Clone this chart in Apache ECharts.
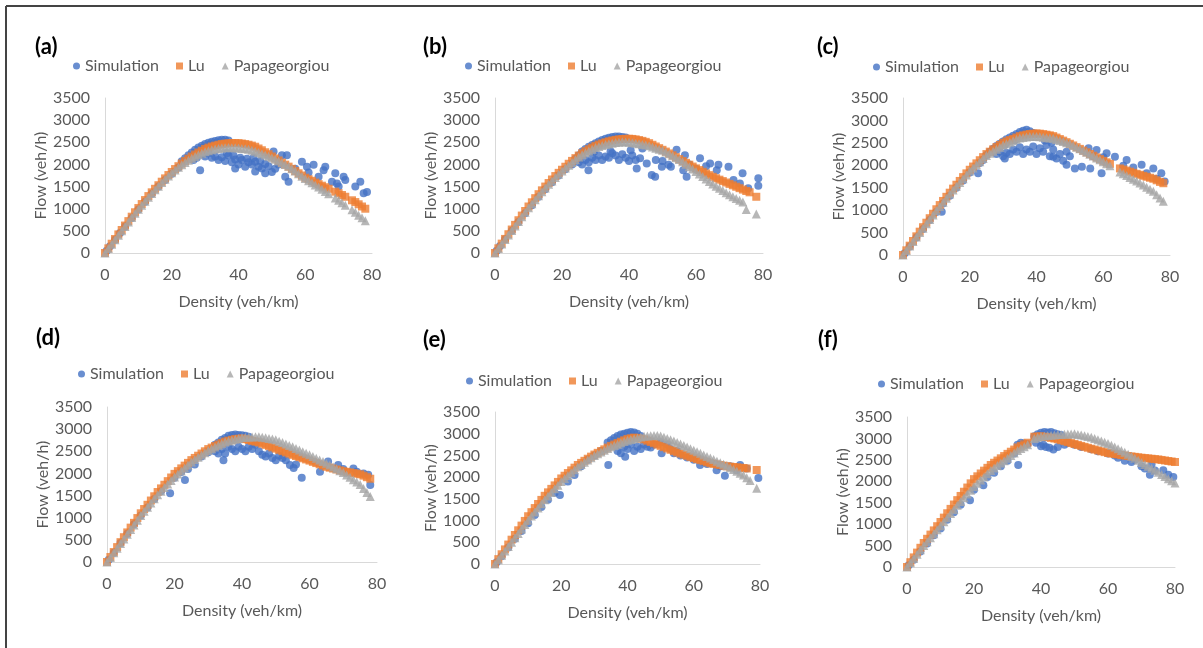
<!DOCTYPE html>
<html>
<head>
<meta charset="utf-8">
<script src="https://cdn.jsdelivr.net/npm/echarts@6/dist/echarts.min.js"></script>
<style>
html,body{margin:0;padding:0;background:#fff;}
#chart{width:1203px;height:648px;}
</style>
</head>
<body>
<div id="chart"></div>
<script>
// ---------- DATA ----------
const panelLabels = ['(a)', '(b)', '(c)', '(d)', '(e)', '(f)'];
const seriesNames = ['Simulation', 'Lu', 'Papageorgiou'];
const xTicks = [0, 20, 40, 60, 80];
const yTicks = [0, 500, 1000, 1500, 2000, 2500, 3000, 3500];
const xTitle = 'Density (veh/km)';
const yTitle = 'Flow (veh/h)';

// densities at which the model curves are evaluated
const modelDensity = [0,1,2,3,4,5,6,7,8,9,10,11,12,13,14,15,16,17,18,19,20,21,22,23,24,25,26,27,28,29,30,31,32,33,34,35,36,37,38,39,40,41,42,43,44,45,46,47,48,49,50,51,52,53,54,55,56,57,58,59,60,61,62,63,64,65,66,67,68,69,70,71,72,73,74,75,76,77,78,79,80];

const luA = [0,105,210,315,420,520,620,720,820,920,
 1015,1105,1195,1285,1370,1450,1530,1610,1685,1760,
 1830,1895,1960,2020,2075,2130,2180,2225,2270,2310,
 2350,2380,2405,2425,2445,2460,2470,2478,2482,2482,
 2480,2472,2460,2445,2425,2400,2360,2320,2275,2230,
 2180,2135,2090,2040,1995,1950,1900,1850,1800,1750,
 1700,1665,1630,1590,1555,1520,1485,1450,null,1385,
 1350,1310,1270,null,1190,1150,1100,1050,1000,null,null];
const papA = [0,100,200,300,400,500,600,700,800,895,
 990,1080,1170,1260,1345,1430,1510,1590,1665,1740,
 1810,1875,1935,1990,2045,2095,2140,2180,2220,2255,
 2285,2310,2330,2350,2362,2372,2378,2380,2378,2375,
 2370,2362,2352,2340,2320,2300,2272,2242,2212,2182,
 2150,2115,2080,2040,2000,1960,1905,1850,1790,1735,
 1680,1630,1585,1535,1490,1440,1390,1340,null,1240,
 1190,1135,1080,null,975,920,855,795,730,null,null];

const luB = [0,106,212,318,424,530,635,740,845,948,
 1050,1145,1238,1328,1415,1500,1580,1660,1737,1810,
 1880,1948,2015,2080,2142,2200,2250,2298,2343,2383,
 2420,2450,2477,2500,2522,2540,2555,2566,2574,2579,
 2580,2576,2566,2550,2532,2510,2480,2444,2405,2367,
 2330,2290,2248,2206,2163,2120,2078,2036,1994,1952,
 1910,1872,1834,1796,1758,1720,1688,1656,1624,1592,
 1560,1528,1496,1464,1432,1400,1370,null,1270,null,null];
const papB = [0,102,204,306,408,510,612,714,816,918,
 1020,1113,1205,1295,1383,1470,1550,1628,1705,1778,
 1850,1918,1983,2045,2108,2170,2218,2263,2305,2345,
 2380,2405,2428,2448,2465,2480,2493,2503,2510,2508,
 2500,2490,2478,2465,2452,2440,2420,2395,2368,2345,
 2320,2280,2240,2195,2152,2110,2058,2004,1950,1895,
 1840,1784,1728,1672,1616,1560,1510,1460,1410,1360,
 1315,1270,1230,1190,1150,980,null,null,880,null,null];

const luC = [0,104,208,312,416,520,620,720,820,920,
 1020,1113,1205,1297,1389,1480,1566,1651,1736,1820,
 1900,1972,2043,2113,2182,2250,2303,2355,2405,2453,
 2500,2533,2563,2590,2620,2650,2668,2684,2697,2705,
 2710,2705,2695,2682,2668,2650,2618,2584,2550,2515,
 2480,2442,2404,2366,2328,2290,2252,2214,2176,2138,
 2100,2066,2032,null,null,1930,1906,1882,1858,1834,
 1810,1788,1766,1744,1722,1700,1665,1630,1600,null,null];
const papC = [0,100,200,300,400,500,598,696,794,892,
 990,1082,1174,1266,1358,1450,1534,1618,1702,1786,
 1870,1940,2010,2080,2150,2220,2266,2312,2358,2404,
 2450,2482,2514,2546,2578,2610,2620,2630,2640,2642,
 2640,2634,2626,2616,2608,2600,2576,2552,2528,2504,
 2480,2442,2404,2366,2328,2290,2248,2206,2164,2122,
 2080,2034,1988,null,null,1850,1810,1770,1730,1690,
 1650,1604,1558,1512,1466,1420,1345,1270,1200,null,null];

const luD = [0,112,224,336,448,560,668,776,884,992,
 1100,1196,1292,1388,1484,1580,1662,1744,1826,1908,
 1990,2052,2114,2176,2238,2300,2350,2400,2450,2500,
 2550,2584,2618,2652,2686,2720,2740,2760,2775,2785,
 2790,2775,2755,2735,2718,2700,2672,2644,2616,2588,
 2560,2532,2504,2476,2448,2420,2394,2368,2342,2316,
 2290,2262,2234,2206,2178,2150,2130,2110,2090,2070,
 2050,2036,2022,2008,1994,1980,1950,1915,1880,null,null];
const papD = [0,104,208,312,416,520,626,732,838,944,
 1050,1144,1238,1332,1426,1520,1600,1680,1760,1840,
 1920,1988,2056,2124,2192,2260,2312,2364,2416,2468,
 2520,2558,2596,2634,2672,2710,2730,2750,2770,2790,
 2810,2815,2820,2825,2828,2830,2818,2804,2790,2775,
 2760,2728,2696,2664,2632,2600,2564,2528,2492,2456,
 2420,2382,2344,2306,2268,2230,2188,2146,2104,2062,
 2020,1966,1912,1858,1804,1750,1660,1570,1480,null,null];

const luE = [0,112,224,336,448,560,668,776,884,992,
 1100,1194,1288,1382,1476,1570,1650,1730,1810,1890,
 1970,2032,2094,2156,2218,2280,2328,2376,2424,2472,
 2520,2560,2600,2640,2680,2720,2752,2784,2816,2848,
 2880,2895,2910,2900,2885,2870,2840,2810,2780,2750,
 2720,2690,2660,2630,2600,2570,2544,2518,2492,2466,
 2440,2416,2392,2368,2344,2320,2306,2292,2278,2264,
 2250,2242,2234,2226,2218,2210,2200,null,null,2165,null];
const papE = [0,100,200,302,404,500,602,704,806,908,
 1010,1104,1198,1292,1386,1480,1564,1648,1732,1816,
 1900,1968,2036,2104,2172,2240,2292,2344,2396,2448,
 2500,2540,2580,2620,2660,2700,2730,2760,2790,2820,
 2850,2868,2886,2904,2922,2940,2948,2954,2960,2957,
 2950,2920,2890,2860,2830,2800,2764,2728,2692,2656,
 2620,2584,2548,2512,2476,2440,2404,2368,2332,2296,
 2260,2218,2176,2134,2092,2050,1985,1920,null,1745,null];

const luF = [0,112,224,336,448,560,658,756,854,952,
 1050,1152,1254,1356,1458,1560,1658,1756,1854,1952,
 2050,2116,2182,2248,2314,2380,2432,2484,2536,2588,
 2640,2690,2740,2790,2827,2864,2900,null,3040,3045,
 3050,3040,3030,3013,2997,2980,2958,2936,2914,2892,
 2870,2848,2826,2804,2782,2760,2740,2720,2700,2680,
 2660,2648,2636,2624,2612,2600,2590,2580,2570,2560,
 2550,2542,2534,2526,2518,2510,2498,2486,2474,2462,2450];
const papF = [0,100,200,300,400,500,592,684,776,868,
 960,1056,1152,1248,1344,1440,1528,1616,1704,1792,
 1880,1954,2028,2102,2176,2250,2308,2366,2424,2482,
 2540,2600,2660,2720,2763,2806,2850,null,3000,3025,
 3050,3058,3066,3074,3082,3090,3094,3098,3102,3106,
 3110,3094,3078,3062,3046,3030,3000,2970,2940,2910,
 2880,2840,2800,2760,2720,2680,2632,2584,2536,2488,
 2440,2394,2348,2302,2256,2210,2160,2110,2060,2010,1960];

// simulation points [density, flow]
const simA = [[0.5,50],[1.5,150],[3,300],[4.5,450],[6,600],[8,790],[10,980],[12,1160],[14,1340],[16,1500],[18,1650],[20,1790],[22,1930],
 [23,2070],[24,2140],[25,2210],[26,2270],[27,2330],[28,2380],[29,2420],[30,2460],[31,2490],[32,2510],[33,2530],[34,2545],[35,2555],[36,2560],[37,2540],[29.5,2370],[31.5,2440],[33.5,2470],
 [26.5,2100],[27.5,2150],[29,2230],[30,2180],[31,2250],[32,2150],[33,2180],[34,2100],[35,2160],[36,2080],[37,2200],[38,2050],[39,2110],[40,2000],[41,2100],[42,1950],[43,2050],[44,2000],[45,2060],[46,1950],[47,1910],[48,2010],[49,1960],[50,1830],[51,1900],[52,2000],[36.5,2250],[38.5,2200],[40.5,2150],[42.5,2130],[44.5,2150],[46.5,2080],
 [28.5,1870],[39,1910],[45,1840],[48,1800],
 [50.5,2290],[53,2210],[54.5,2210],[54,1720],[55,1610],[59,2060],[60.5,1950],[62.5,1990],[65.5,1870],[64,1720],[69,1800],[71.5,1720],[69.5,1570],[70,1500],[68,1610],[75,1500],[76.5,1610],[77.5,1350],[78.5,1380],[66,1950],[72,1650],[61,1820],[57,1900]];
const simB = [[0.5,50],[1.5,160],[3,310],[5,500],[7,700],[9,900],[11,1080],[13,1270],[15,1440],[17,1600],[19,1750],[21,1890],[23,2000],
 [24,2130],[25,2210],[26,2290],[27,2350],[28,2400],[29,2440],[30,2480],[31,2520],[32,2550],[33,2580],[34,2600],[35,2620],[36,2630],[37,2630],[38,2620],[39,2610],[30.5,2420],[33.5,2500],
 [25,2050],[26,2000],[27,2100],[28,2050],[29,2150],[30,2100],[31,2200],[32,2100],[33,2180],[34,2150],[35,2250],[36,2200],[37,2100],[38,2230],[39,2150],[40,2080],[41,2200],[42,2100],[29.5,2280],[34.5,2300],[40.5,2320],
 [27.9,1870],[42.3,1910],
 [43.3,2140],[45.3,2020],[46.8,1760],[47.8,1720],[49.8,1950],[51.8,1990],[44,2360],[48,2100],[50,2080],[52.5,1950],
 [54.2,2330],[56.7,2210],[56.2,1870],[57.2,1720],[58,2000],[61.2,2140],[64.2,2020],[66.7,1990],[69.7,1950],[66.2,1870],[73.9,1800],[71.2,1650],[73.1,1570],[78.6,1690],[78.6,1520],[75.6,1460],[60,1900],[63,1960]];
const simC = [[0.5,40],[2,190],[4,390],[6,580],[8,780],[10,960],[11.6,966],[12,1150],[14,1320],[16,1500],[18,1660],[20,1840],[22.5,1820],[23,2050],[24,2120],
 [25,2230],[26,2300],[27,2370],[28,2430],[29,2480],[30,2530],[31,2580],[32,2620],[33,2660],[34,2700],[35,2740],[36,2770],[37,2790],[38,2760],[39,2720],[40,2700],[30.5,2460],[33.5,2560],
 [28,2250],[29,2300],[30,2200],[30.5,2150],[31,2280],[32,2250],[33,2350],[34,2300],[35,2400],[36,2250],[37,2350],[38,2300],[39,2420],[40,2250],[41,2380],[42,2300],[43,2450],[44,2200],[45,2350],[46,2150],[47,2250],[48,2100],[49,2300],[50,2200],[42.5,2550],[44.5,2500],
 [45,2190],[49,2010],[51.5,1930],[53.6,1970],[56.1,1930],[59.5,1820],
 [55.6,2380],[58,2340],[61,2270],[63.5,2190],[67,2120],[71.5,2010],[75,1930],[77.4,1820],[78.4,1640],[57,2200],[60,2180],[66,1990],[69,1950],[73,1820],[76,1700]];
const simD = [[0.5,50],[2,210],[4,430],[6,640],[8,850],[10,1050],[12,1230],[14,1420],[16,1600],[18.7,1550],[20,1900],[22,2030],[23.1,1850],[24,2100],[26,2200],[28,2380],[30,2480],
 [32,2650],[33,2700],[34,2760],[35,2800],[36,2850],[37,2870],[38,2880],[39,2870],[40,2860],[41,2850],[42,2830],[36.5,2780],[38.5,2800],
 [32,2500],[33,2450],[34,2550],[35,2450],[36,2600],[37,2550],[38,2500],[39,2600],[40,2550],[41,2500],[42,2600],[43,2550],[44,2650],[45,2500],[46,2420],[47,2380],[48,2450],[49,2350],[50,2300],[51,2400],[52,2350],[53,2300],
 [34.5,2300],[55.3,2120],[57.7,1900],[54.2,2190],[56,2200],
 [63.1,2040],[65.5,2270],[68.5,2190],[73,2110],[74,2040],[77.4,1970],[78,1740],[76,2000],[70,2100]];
const simE = [[0.5,40],[2,180],[4,380],[6,580],[8,760],[10,940],[12,1130],[14,1310],[16,1480],[18,1640],[19.6,1590],[22,1900],[24,2050],[26,2250],[28,2400],[30,2500],[32,2600],
 [34,2800],[35,2850],[36,2900],[37,2950],[38,2980],[39,3000],[40,3020],[41,3040],[42,3030],[43,3000],[44,2950],[36.5,2750],
 [37,2600],[38,2550],[39,2700],[40,2650],[41,2750],[42,2600],[43,2700],[44,2650],[45,2750],[46,2700],[47,2680],[48,2750],
 [34.2,2280],[39.3,2470],[50.3,2550],
 [50,2800],[52,2750],[53,2650],[54,2550],[55,2600],[56,2500],[58,2450],[60,2400],[61.9,2280],[63,2350],[64,2300],[66.9,2160],[69.4,2030],[73,2160],[74,2280],[76,2200],[79.5,1980],[71,2250],[68,2250]];
const simF = [[0.5,40],[2,170],[4,360],[6,550],[8,740],[10,900],[12,1100],[14,1280],[16,1450],[18.8,1560],[20,1800],[22.8,1910],[24,2100],[26,2200],[28,2350],[30,2480],[33.2,2380],[32,2650],[33,2850],[34,2900],[35,2880],[36,2870],
 [38,3050],[39,3100],[40,3130],[41,3150],[42,3140],[43,3150],[44,3120],[45,3100],[46,3080],
 [38.5,2900],[40,2820],[40.7,2850],[41.5,2800],[42.5,2780],[43.7,2740],[45,2800],[47,2850],
 [48,2900],[50,2850],[52,2800],[55,2750],[57,2700],[60,2650],[62,2600],[63,2550],[65,2480],[67,2450],[68,2500],[70,2350],[71,2300],[72.5,2150],[74,2250],[76.5,2260],[78,2150],[79.5,2100],[73,2400]];

// ---------- LAYOUT ----------
const panels = [
  {sim: simA, lu: luA, pap: papA},
  {sim: simB, lu: luB, pap: papB},
  {sim: simC, lu: luC, pap: papC},
  {sim: simD, lu: luD, pap: papD},
  {sim: simE, lu: luE, pap: papE},
  {sim: simF, lu: luF, pap: papF}
];
const gridBoxes = [
  {left:105, top:98, width:267, height:155},
  {left:495, top:98, width:268, height:155},
  {left:903, top:98, width:267, height:157},
  {left:107, top:407, width:270, height:155},
  {left:495, top:412, width:265, height:152},
  {left:907, top:417, width:268, height:150}
];
const labelPos = [[35,36],[423,36],[817,36],[36,327],[423,329],[818,329]];
const legendPos = [[73,58],[465,58],[873,59],[78,366],[466,373],[878,376]];

const FONT = 'Lato, "Liberation Sans", sans-serif';
const TXT = '#595959';
const COLORS = ['#4472C4', '#ED7D31', '#A5A5A5'];

function modelPairs(arr) {
  const out = [];
  modelDensity.forEach((d, i) => { if (arr[i] != null) out.push([d, arr[i]]); });
  return out;
}

const grid = [], xAxis = [], yAxis = [], series = [], legend = [], title = [];
panels.forEach((p, i) => {
  grid.push(Object.assign({containLabel:false}, gridBoxes[i]));
  xAxis.push({
    type:'value', gridIndex:i, min:xTicks[0], max:xTicks[xTicks.length-1], interval:xTicks[1]-xTicks[0],
    name:xTitle, nameLocation:'middle', nameGap:41,
    nameTextStyle:{color:TXT, fontSize:16, fontFamily:FONT},
    axisLine:{show:true, onZero:false, lineStyle:{color:'#D9D9D9', width:1}},
    axisTick:{show:false}, splitLine:{show:false},
    axisLabel:{color:TXT, fontSize:16, fontFamily:FONT, margin:14, formatter:v => String(v)}
  });
  yAxis.push({
    type:'value', gridIndex:i, min:yTicks[0], max:yTicks[yTicks.length-1], interval:yTicks[1]-yTicks[0],
    name:yTitle, nameLocation:'middle', nameGap:47,
    nameTextStyle:{color:TXT, fontSize:16, fontFamily:FONT},
    axisLine:{show:true, lineStyle:{color:'#D9D9D9', width:1}},
    axisTick:{show:false}, splitLine:{show:false},
    axisLabel:{color:TXT, fontSize:16, fontFamily:FONT, margin:15, formatter:v => String(v)}
  });
  series.push({
    name:seriesNames[0], type:'scatter', xAxisIndex:i, yAxisIndex:i,
    symbol:'circle', symbolSize:8, itemStyle:{color:COLORS[0]}, data:p.sim
  });
  series.push({
    name:seriesNames[1], type:'scatter', xAxisIndex:i, yAxisIndex:i,
    symbol:'rect', symbolSize:8, itemStyle:{color:COLORS[1]}, data:modelPairs(p.lu)
  });
  series.push({
    name:seriesNames[2], type:'scatter', xAxisIndex:i, yAxisIndex:i,
    symbol:'triangle', symbolSize:9, itemStyle:{color:COLORS[2]}, data:modelPairs(p.pap)
  });
  legend.push({
    left:legendPos[i][0], top:legendPos[i][1], padding:0, orient:'horizontal',
    itemWidth:7, itemHeight:7, itemGap:17, selectedMode:false,
    textStyle:{color:TXT, fontSize:16, fontFamily:FONT},
    data:[{name:seriesNames[0], icon:'circle'},{name:seriesNames[1], icon:'rect'},{name:seriesNames[2], icon:'triangle'}]
  });
  title.push({
    text:panelLabels[i], left:labelPos[i][0], top:labelPos[i][1], padding:0,
    textStyle:{color:'#000', fontSize:22, fontWeight:'bold', fontFamily:FONT}
  });
});

const chart = echarts.init(document.getElementById('chart'), null, {renderer:'canvas'});
chart.setOption({
  backgroundColor:'#ffffff',
  animation:false,
  color:COLORS,
  title, legend, grid, xAxis, yAxis, series,
  graphic:[
    {type:'line', shape:{x1:6, y1:6, x2:1203, y2:6}, style:{stroke:'#444444', lineWidth:2}},
    {type:'line', shape:{x1:6, y1:6, x2:6, y2:648}, style:{stroke:'#444444', lineWidth:2}}
  ]
});
</script>
</body>
</html>
